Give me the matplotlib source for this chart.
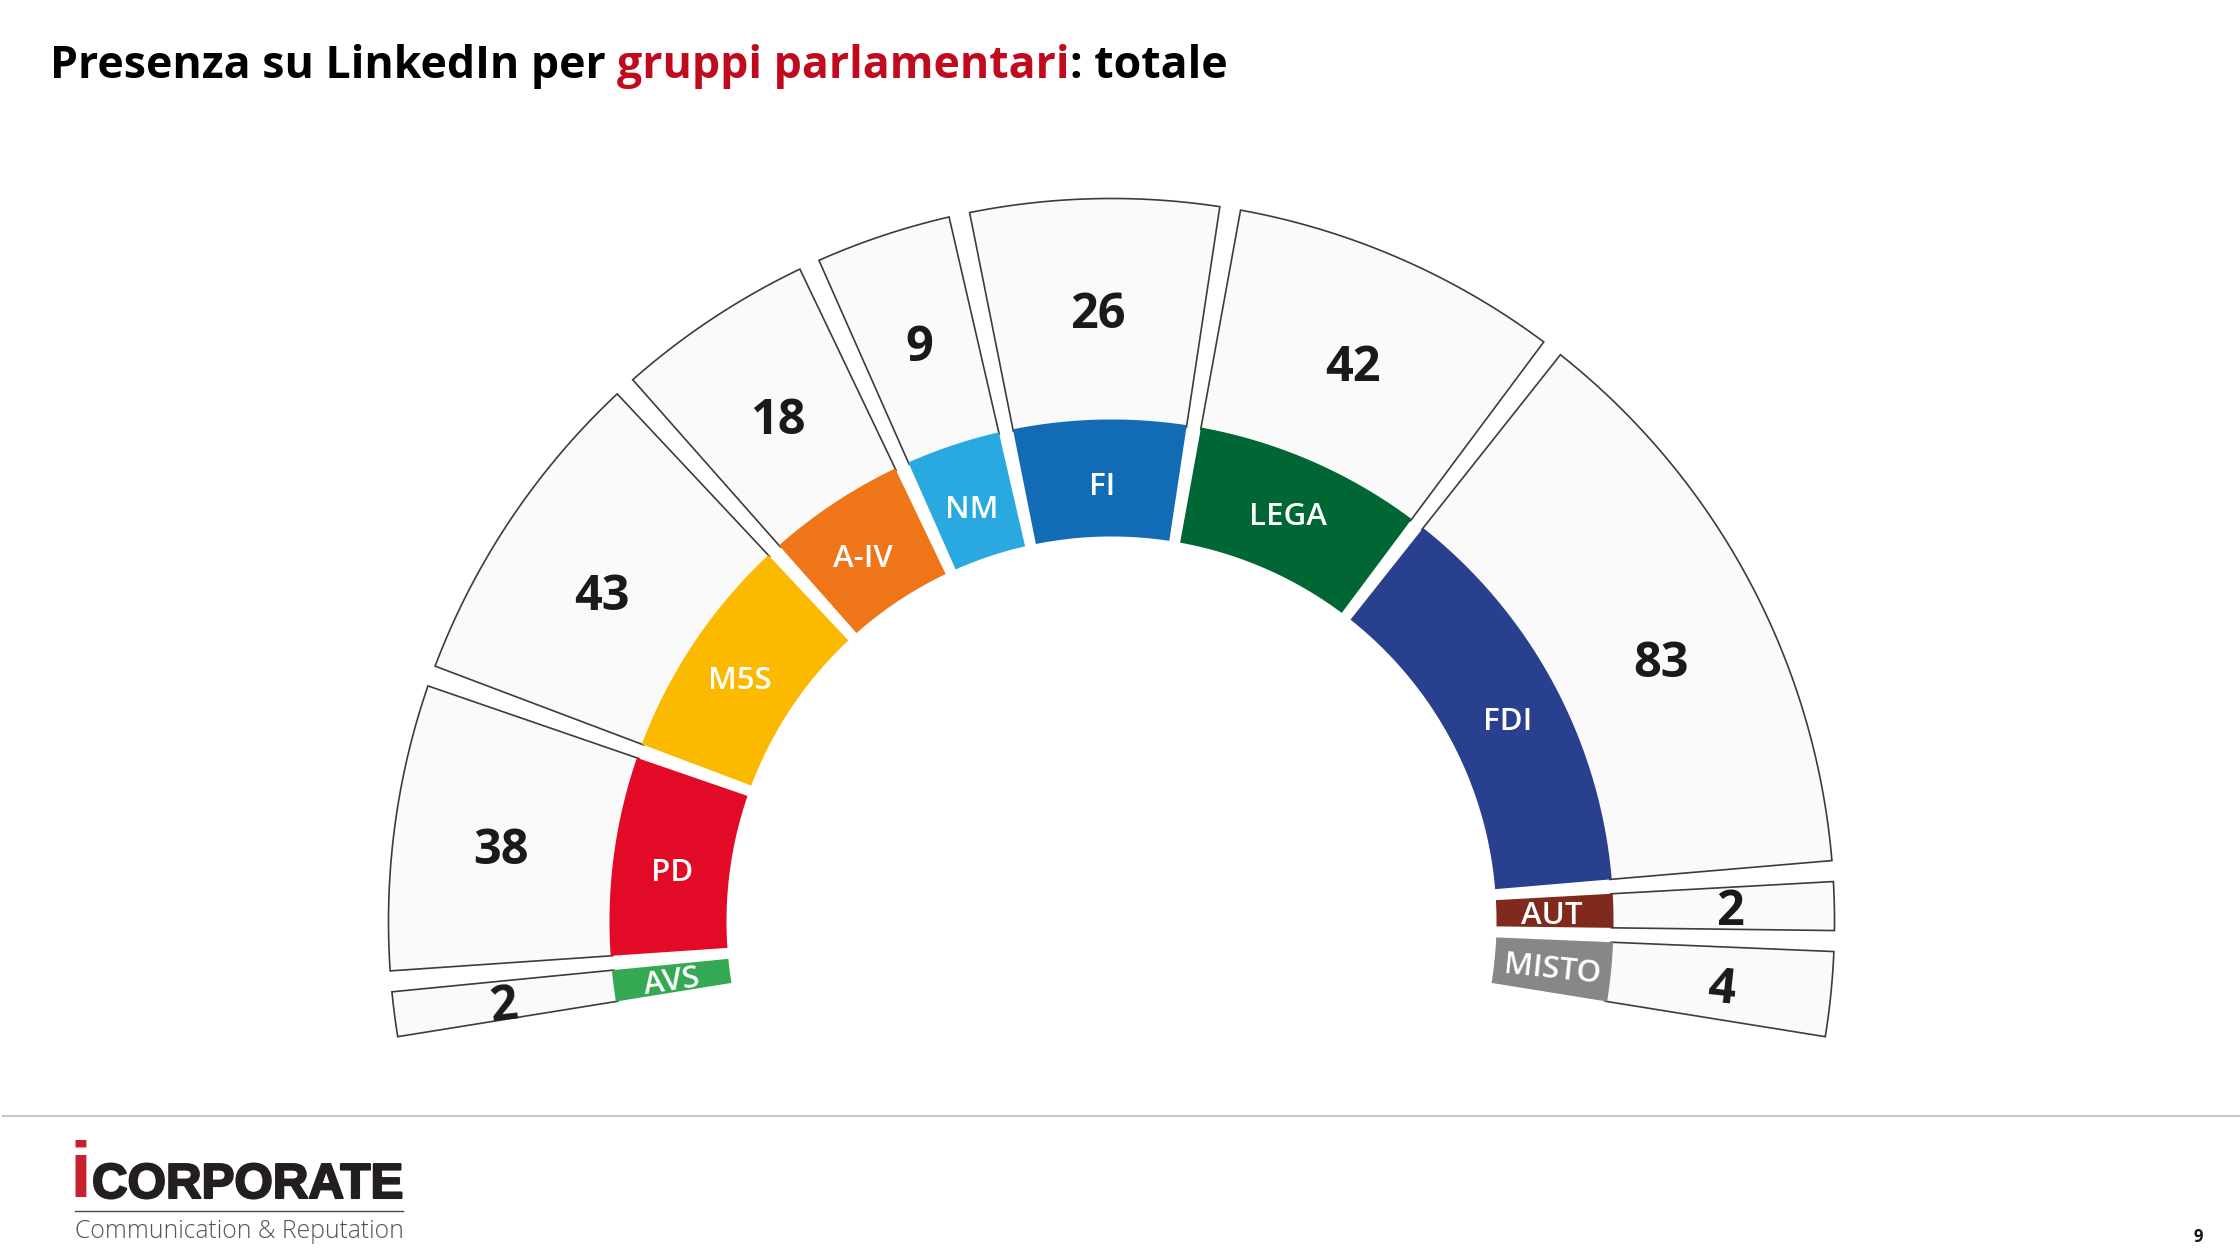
import numpy as np
import matplotlib
matplotlib.use("Agg")
import matplotlib.pyplot as plt
from matplotlib import patheffects as pe

# ---- data ----
groups = ["AVS", "PD", "M5S", "A-IV", "NM", "FI", "LEGA", "FDI", "AUT", "MISTO"]
linkedin_counts = [2, 38, 43, 18, 9, 26, 42, 83, 2, 4]
group_spans = [5.25, 24.6, 27.85, 17.6, 12.55, 21.6, 28.1, 48.45, 5.55, 8.45]
group_colors = ["#34A853", "#E30A27", "#FBBA00", "#EE7518", "#29A9E0",
                "#116CB5", "#006633", "#29408E", "#7F2A1C", "#878787"]
label_rotation = [8, 0, 0, 0, 0, 0, 0, 0, 0, -6]
value_rotation = [6, 0, 0, 0, 0, 0, 0, 0, 0, -6]
title_parts = [("Presenza su LinkedIn per ", "#000000"),
               ("gruppi parlamentari", "#C00A1E"),
               (": totale", "#000000")]

# ---- layout (pixels) ----
W, H = 2240, 1260
CX, CY = 1111.5, 921.5
R_IN, R_MID, R_OUT = 385, 502, 723
R_LABEL, R_VALUE = 443, 612
GAP_IN, GAP_OUT = 5.5, 10.5
START = 190.0
FONT = "Open Sans"
label_shift = [(0, -4), (0, -10), (-3, -6), (-4, -7), (0, -9),
               (1, -8), (0, -2), (6, -10), (-3, -4), (0, -4)]
value_shift = [(-1, -7), (-4, -10), (-1, -16), (4, -10), (1, -8),
               (1, -6), (-3, -8), (10, -32), (7, -4), (1, -7)]

fig = plt.figure(figsize=(W / 100, H / 100), dpi=100, facecolor="white")
RMAX = 760
ax = fig.add_axes([(CX - RMAX) / W, 1 - (CY + RMAX) / H, 2 * RMAX / W, 2 * RMAX / H],
                  projection="polar")
ax.set_xlim(0, 2 * np.pi)
ax.set_ylim(0, RMAX)
ax.set_autoscale_on(False)
ax.axis("off")


def half_gap(r):
    return GAP_IN + (r - R_IN) * (GAP_OUT - GAP_IN) / (R_OUT - R_IN)


def sector(a_hi, a_lo, r0, r1):
    """Sector between two boundary angles (deg); the gap to the boundary tapers towards the centre."""
    hi, lo = np.radians(a_hi), np.radians(a_lo)
    d1, d0 = np.arcsin(half_gap(r1) / r1), np.arcsin(half_gap(r0) / r0)
    th1 = np.linspace(hi - d1, lo + d1, 120)
    th0 = np.linspace(lo + d0, hi - d0, 120)
    return np.r_[th1, th0], np.r_[np.full(120, r1), np.full(120, r0)]


edges = START - np.r_[0, np.cumsum(group_spans)]
for i, name in enumerate(groups):
    hi, lo = edges[i], edges[i + 1]
    t, r = sector(hi, lo, R_MID - 2, R_OUT)
    ax.fill(t, r, facecolor="#FAFAFA", edgecolor="#3C3C3C", linewidth=1.2, zorder=2)
    t, r = sector(hi, lo, R_IN, R_MID)
    ax.fill(t, r, facecolor=group_colors[i], edgecolor="none", zorder=3)
    mid = np.radians((hi + lo) / 2)
    ax.annotate(name, xy=(mid, R_LABEL), xytext=label_shift[i], textcoords="offset pixels",
                color="white", fontsize=22.5, fontfamily=FONT, fontweight="semibold",
                ha="center", va="center", rotation=label_rotation[i],
                rotation_mode="anchor", zorder=4)
    ax.annotate(str(linkedin_counts[i]), xy=(mid, R_VALUE), xytext=value_shift[i],
                textcoords="offset pixels", color="#1A1A1A", fontsize=35, fontfamily=FONT,
                fontweight="bold", ha="center", va="center", rotation=value_rotation[i],
                rotation_mode="anchor", zorder=4)

# ---- title in three colours on one baseline ----
fig.canvas.draw()
rend = fig.canvas.get_renderer()


def text_width(s, **kw):
    tmp = fig.text(0, 0, s + ".", **kw)
    tmp2 = fig.text(0, 0, ".", **kw)
    w = tmp.get_window_extent(rend).width - tmp2.get_window_extent(rend).width
    tmp.remove()
    tmp2.remove()
    return w


tkw = dict(fontsize=32.1, fontfamily=FONT, fontweight="bold")
x = 50
for s, c in title_parts:
    fig.text(x / W, 1 - 78 / H, s, color=c, va="baseline", ha="left", **tkw)
    x += text_width(s, **tkw)

# ---- footer ----
fig.add_artist(plt.Line2D([3 / W, 1], [1 - 1116 / H] * 2, color="#C8C8C8", linewidth=1.6))
fig.text(69.5 / W, 1 - 1198 / H, "i", color="#C8202E", fontsize=57, fontfamily="Liberation Sans",
         fontweight="bold", ha="left", va="baseline")
fig.text(92 / W, 1 - 1198 / H, "CORPORATE", color="#231F20", fontsize=35.5, fontfamily="Liberation Sans",
         fontweight="bold", ha="left", va="baseline",
         path_effects=[pe.withStroke(linewidth=1.5, foreground="#231F20")])
fig.add_artist(plt.Line2D([75 / W, 403 / W], [1 - 1211 / H] * 2, color="#4A4A4A", linewidth=1.0))
fig.text(75 / W, 1 - 1238 / H, "Communication & Reputation", color="#555555", fontsize=17.8,
         fontfamily="Open Sans", fontweight="light", ha="left", va="baseline")
fig.text(2198 / W, 1 - 1237 / H, "9", color="#111111", fontsize=12, fontfamily=FONT,
         fontweight="bold", ha="center", va="center")

fig.savefig("out.png", dpi=100, facecolor="white")
